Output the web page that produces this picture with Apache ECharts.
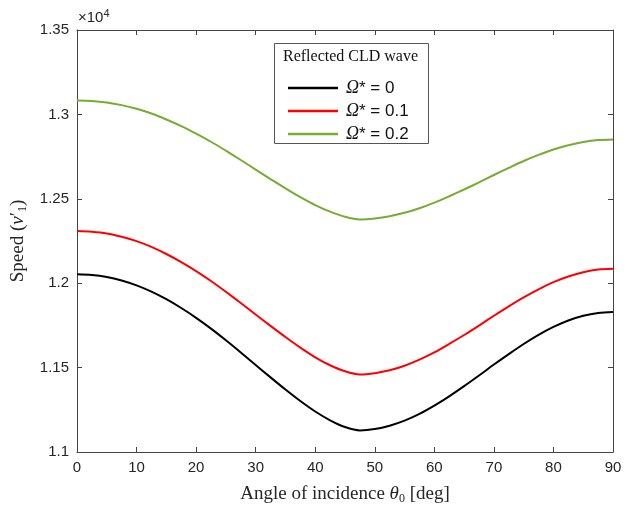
<!DOCTYPE html>
<html>
<head>
<meta charset="utf-8">
<script src="https://cdn.jsdelivr.net/npm/echarts@6/dist/echarts.min.js"></script>
<style>html,body{margin:0;padding:0;background:#fff}#c{width:633px;height:506px}</style>
</head>
<body>
<div id="c"></div>
<script>
// Angle of incidence (deg)
var angles = [0,2.5,5,7.5,10,12.5,15,17.5,20,22.5,25,27.5,30,32.5,35,37.5,40,42.5,45,47.5,
              50,52.5,55,57.5,60,62.5,65,67.5,70,72.5,75,77.5,80,82.5,85,87.5,90];
// Speed values (axis shows x10^4)
var omega0 = [12053,12049,12037,12016,11987,11950,11905,11853,11795,11731,11662,11590,11516,11442,11370,11302,11240,11188,11148,11128,
              11136,11156,11186,11226,11275,11330,11390,11453,11518,11580,11640,11694,11741,11779,11807,11824,11830];
var omega01 = [12309,12305,12295,12275,12249,12215,12173,12125,12072,12013,11949,11883,11815,11747,11681,11618,11561,11514,11478,11459,
               11467,11484,11511,11547,11590,11640,11693,11749,11807,11863,11916,11964,12006,12040,12065,12081,12086];
var omega02 = [13083,13080,13071,13055,13033,13005,12970,12931,12886,12838,12785,12730,12673,12617,12562,12510,12463,12424,12394,12378,
               12384,12397,12417,12444,12477,12515,12555,12597,12641,12683,12724,12760,12792,12817,12836,12848,12852];
var xTicks = [0,10,20,30,40,50,60,70,80,90];
var yTicks = [1.1,1.15,1.2,1.25,1.3,1.35];
var seriesNames = ['{i|Ω}* = 0','{i|Ω}* = 0.1','{i|Ω}* = 0.2'];
var legendTitle = 'Reflected CLD wave';

function pairs(xs, ys){ return xs.map(function(x,i){ return [x, ys[i]]; }); }

var chart = echarts.init(document.getElementById('c'), null, {renderer:'canvas'});
var axisColor = '#444';
var sans = 'Liberation Sans, Arial, sans-serif';
var serif = 'Liberation Serif, Times New Roman, serif';

var option = {
  animation: false,
  backgroundColor: '#fff',
  grid: {left: 77, right: 20, top: 30, bottom: 54, containLabel: false, outerBoundsMode: 'none'},
  xAxis: [{
    type: 'value', min: 0, max: 90, interval: 10, position: 'bottom',
    axisLine: {show: true, onZero: false, lineStyle: {color: axisColor, width: 1}},
    axisTick: {show: true, inside: true, length: 5, lineStyle: {color: axisColor}},
    axisLabel: {color: '#262626', fontFamily: sans, fontSize: 15, margin: 8,
      formatter: function(v){ return xTicks.indexOf(v) >= 0 ? String(v) : ''; }},
    splitLine: {show: false},
    name: 'Angle of incidence {i|θ}{s|0} [deg]',
    nameLocation: 'middle', nameGap: 31,
    nameTextStyle: {fontFamily: serif, fontSize: 19, color: '#262626',
      rich: {i: {fontFamily: serif, fontStyle: 'italic', fontSize: 19, color: '#262626'},
             s: {fontFamily: serif, fontSize: 12, verticalAlign: 'bottom', padding: [10,0,0,0], color: '#262626'}}}
  }, {
    type: 'value', min: 0, max: 90, interval: 10, position: 'top',
    axisLine: {show: true, onZero: false, lineStyle: {color: axisColor, width: 1}},
    axisTick: {show: true, inside: true, length: 5, lineStyle: {color: axisColor}},
    axisLabel: {show: false}, splitLine: {show: false}
  }],
  yAxis: [{
    type: 'value', min: 11000, max: 13500, interval: 500, position: 'left',
    axisLine: {show: true, onZero: false, lineStyle: {color: axisColor, width: 1}},
    axisTick: {show: true, inside: true, length: 5, lineStyle: {color: axisColor}},
    axisLabel: {color: '#262626', fontFamily: sans, fontSize: 15, margin: 8,
      formatter: function(v){
        var t = Math.round(v/100)/100;
        for (var k=0;k<yTicks.length;k++){ if (Math.abs(yTicks[k]-t) < 1e-6) return String(yTicks[k]); }
        return '';
      }},
    splitLine: {show: false},
    name: 'Speed ({i|v}′{s|1})',
    nameLocation: 'middle', nameGap: 37, nameRotate: 90,
    nameTextStyle: {fontFamily: serif, fontSize: 19, color: '#262626',
      rich: {i: {fontFamily: serif, fontStyle: 'italic', fontSize: 19, color: '#262626'},
             s: {fontFamily: serif, fontSize: 12, color: '#262626', verticalAlign: 'bottom', padding: [10,0,0,0]}}}
  }, {
    type: 'value', min: 11000, max: 13500, interval: 500, position: 'right',
    axisLine: {show: true, onZero: false, lineStyle: {color: axisColor, width: 1}},
    axisTick: {show: true, inside: true, length: 5, lineStyle: {color: axisColor}},
    axisLabel: {show: false}, splitLine: {show: false}
  }],
  legend: {
    left: 283, top: 73, orient: 'vertical',
    itemWidth: 50, itemHeight: 2.5, itemGap: 3,
    icon: 'rect',
    data: seriesNames,
    textStyle: {fontFamily: sans, fontSize: 17, color: '#111', lineHeight: 20, padding: [0,0,0,3],
      rich: {i: {fontFamily: serif, fontStyle: 'italic', fontSize: 18, color: '#111'}}},
    selectedMode: false
  },
  graphic: [
    {type: 'rect', left: 274, top: 43, shape: {width: 154, height: 100},
     style: {fill: '#fff', stroke: '#555', lineWidth: 1}, z: 0},
    {type: 'text', left: 283, top: 49,
     style: {text: legendTitle, font: '16px ' + serif, fill: '#111'}, z: 5},
    {type: 'text', left: 78, top: 8,
     style: {text: '×10{s|4}', font: '15px ' + sans, fill: '#262626',
       rich: {s: {font: '11px ' + sans, verticalAlign: 'top', padding: [0,0,8,0], fill: '#262626'}}}, z: 5}
  ],
  series: [
    {name: seriesNames[0], type: 'line', data: pairs(angles, omega0), smooth: 0.3, showSymbol: false,
     lineStyle: {color: '#000000', width: 2}, itemStyle: {color: '#000000'}},
    {name: seriesNames[1], type: 'line', data: pairs(angles, omega01), smooth: 0.3, showSymbol: false,
     lineStyle: {color: '#ff0000', width: 2}, itemStyle: {color: '#ff0000'}},
    {name: seriesNames[2], type: 'line', data: pairs(angles, omega02), smooth: 0.3, showSymbol: false,
     lineStyle: {color: '#77ac30', width: 2}, itemStyle: {color: '#77ac30'}}
  ]
};
chart.setOption(option);
</script>
</body>
</html>
